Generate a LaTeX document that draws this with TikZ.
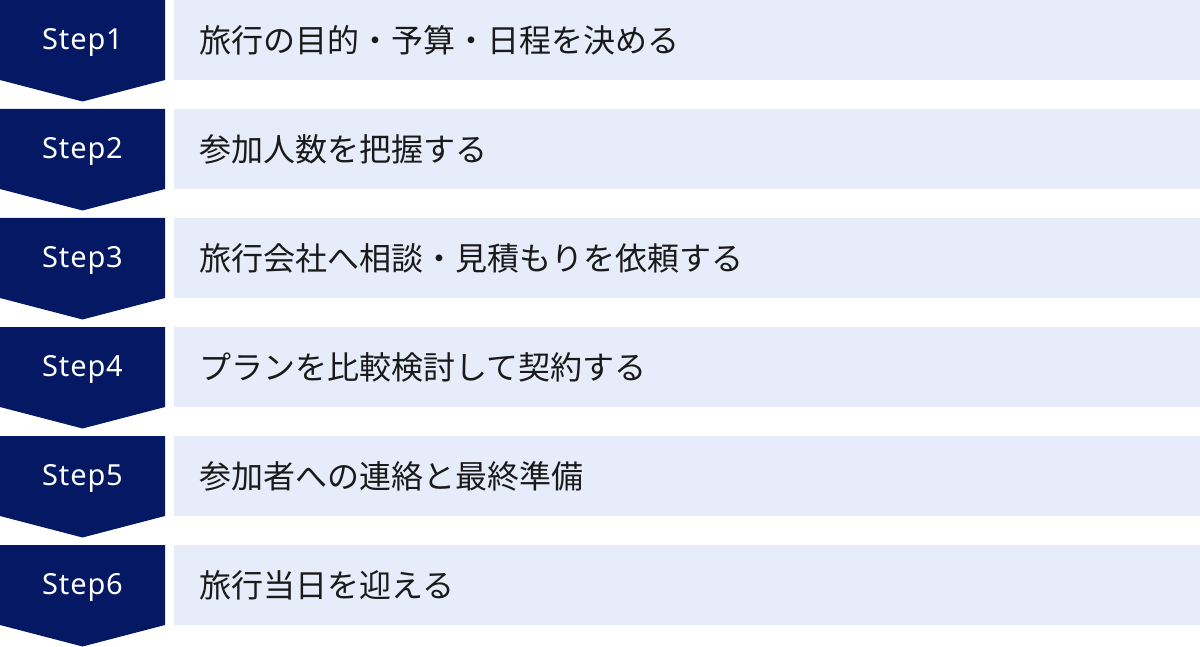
\documentclass[tikz,border=0pt]{standalone}
\usepackage{fontspec}
\setmainfont{Noto Sans}[LetterSpace=3]
\newfontfamily\jpfont{Noto Sans CJK JP}
\definecolor{navy}{HTML}{041864}
\definecolor{pale}{HTML}{E6ECF9}
\definecolor{ink}{HTML}{1A1A1A}
\tikzset{
  stepshape/.style={fill=navy},
  barshape/.style={fill=pale},
  steplabel/.style={text=white, font=\fontsize{29}{33}\selectfont, inner sep=0pt},
  barlabel/.style={text=ink, font=\jpfont\fontsize{32}{38}\selectfont, anchor=west, inner sep=0pt},
}
\begin{document}
\begin{tikzpicture}[x=1pt,y=-1pt]
\useasboundingbox (0,0) rectangle (1200,647);
\foreach \i/\t in {0/旅行の目的・予算・日程を決める,1/参加人数を把握する,2/旅行会社へ相談・見積もりを依頼する,3/プランを比較検討して契約する,4/参加者への連絡と最終準備,5/旅行当日を迎える}{
  \pgfmathsetmacro{\yy}{\i*109}
  \pgfmathtruncatemacro{\n}{\i+1}
  \fill[stepshape] (0,\yy) -- (165,\yy) -- (165,\yy+80) -- (82.5,\yy+101.5) -- (0,\yy+80) -- cycle;
  \fill[barshape] (174,\yy) rectangle (1200,\yy+80);
  \node[steplabel] (step\n) at (82.5,\yy+42) {Step\n};
  \node[barlabel] (text\n) at (199,\yy+40) {\t};
}
\end{tikzpicture}
\end{document}
